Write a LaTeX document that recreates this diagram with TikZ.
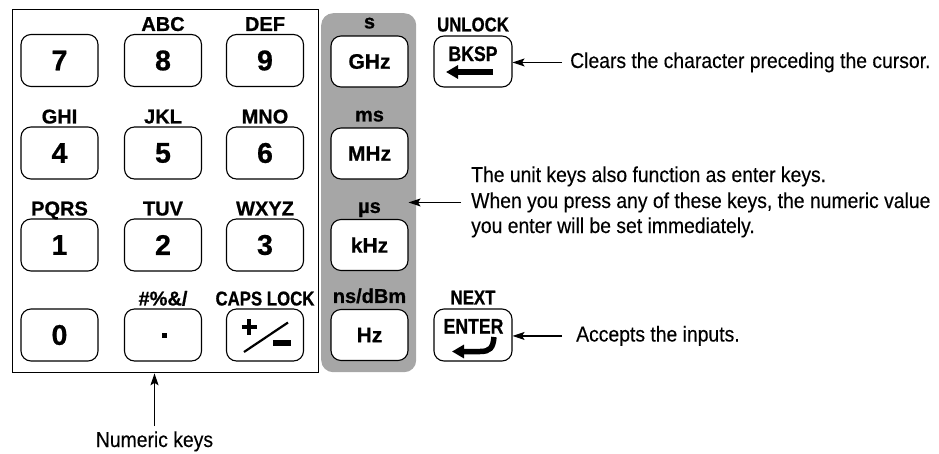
\documentclass[tikz,border=0pt]{standalone}
\usepackage{fontspec}
\setmainfont{Liberation Sans}[BoldFeatures={FakeBold=0.7}]
\newfontfamily\descfont{Liberation Sans}[FakeStretch=0.9, FakeBold=0.25]
\newfontfamily\narrowfont{Liberation Sans}[FakeStretch=0.84, BoldFeatures={FakeBold=0.7}]
\usetikzlibrary{arrows.meta}
\definecolor{panel}{RGB}{166,166,166}
\begin{document}
\begin{tikzpicture}[x=1pt,y=-1pt,
  keybox/.style={draw, line width=1.1pt, rounded corners=10pt, minimum width=77pt,
    minimum height=52pt, fill=white, inner sep=0pt},
  digit/.style={keybox, font=\bfseries\fontsize{28.5}{28.5}\selectfont},
  unitkey/.style={keybox, minimum height=51pt, font=\bfseries\fontsize{21}{21}\selectfont},
  lab/.style={anchor=base, inner sep=0pt, font=\bfseries\fontsize{20}{20}\selectfont},
  nlab/.style={anchor=base, inner sep=0pt, font=\narrowfont\bfseries\fontsize{20}{20}\selectfont},
  desc/.style={anchor=base west, inner sep=0pt, font=\descfont\fontsize{21.5}{24}\selectfont},
  arr/.style={line width=1.3pt, -{Stealth[length=12pt,width=8pt,inset=2.5pt]}},
  glyph/.style={line width=5.5pt, -{Triangle[length=12pt,width=13pt]}}
]
\useasboundingbox (0,0) rectangle (939,453);

% numeric block frame
\node[draw, line width=1.3pt, minimum width=306pt, minimum height=363pt, anchor=north west,
  inner sep=0pt] (numbox) at (12,9) {};
% unit panel
\node[fill=panel, rounded corners=12pt, minimum width=95pt, minimum height=359pt,
  anchor=north west, inner sep=0pt] (upanel) at (321,13) {};

% numeric keys
\node[digit] (k7) at (59.5,60.5) {7};
\node[digit] (k8) at (163,60.5) {8};
\node[digit] (k9) at (265,60.5) {9};
\node[digit] (k4) at (59.5,153) {4};
\node[digit] (k5) at (163,153) {5};
\node[digit] (k6) at (265,153) {6};
\node[digit] (k1) at (59.5,245) {1};
\node[digit] (k2) at (163,245) {2};
\node[digit] (k3) at (265,245) {3};
\node[digit] (k0) at (59.5,335) {0};
\node[digit] (kdot) at (163,335) {};
\node[digit] (kpm) at (265,335) {};

\node[lab] (l8) at ([yshift=3pt]k8.north) {ABC};
\node[lab] (l9) at ([yshift=3pt]k9.north) {DEF};
\node[lab] (l4) at ([yshift=3pt]k4.north) {GHI};
\node[lab] (l5) at ([yshift=3pt]k5.north) {JKL};
\node[lab] (l6) at ([yshift=3pt]k6.north) {MNO};
\node[lab] (l1) at ([yshift=3pt]k1.north) {PQRS};
\node[lab] (l2) at ([yshift=3pt]k2.north) {TUV};
\node[lab] (l3) at ([yshift=3pt]k3.north) {WXYZ};
\node[lab] (ldot) at ([yshift=3pt]kdot.north) {\#\%\&/};
\node[nlab] (lpm) at ([yshift=3pt]kpm.north) {CAPS LOCK};

% dot key glyph
\fill (161.5,332.5) rectangle (167,338);
% plus/minus glyph
\draw[line width=4pt] (241.5,327) -- (256.5,327) (249,319) -- (249,335);
\draw[line width=2.2pt] (244,352) -- (288,322.5);
\fill (273,339.5) rectangle (291,345.5);

% unit keys
\node[unitkey] (kg) at (369.5,61.5) {GHz};
\node[unitkey] (km) at (369.5,153.5) {MHz};
\node[unitkey] (kk) at (369.5,245) {kHz};
\node[unitkey] (kh) at (369.5,335) {Hz};
\node[lab] (ls) at ([yshift=7pt]kg.north) {s};
\node[lab] (lms) at ([yshift=6pt]km.north) {ms};
\node[lab] (lus) at ([yshift=6pt]kk.north) {µs};
\node[lab] (lns) at ([yshift=6pt]kh.north) {ns/dBm};

% BKSP and ENTER keys
\node[keybox, minimum width=78pt, minimum height=51pt] (bksp) at (473,61.5) {};
\node[nlab, font=\narrowfont\bfseries\fontsize{21}{21}\selectfont] (bksptxt) at (473,61) {BKSP};
\draw[glyph] (493,72) -- (446,72);
\node[nlab] (lunlock) at ([yshift=4pt]bksp.north) {UNLOCK};

\node[keybox, minimum width=78pt, minimum height=52pt] (enter) at (473,335) {};
\node[nlab, font=\narrowfont\bfseries\fontsize{21}{21}\selectfont] (entertxt) at (473.5,333.5) {ENTER};
\draw[glyph] (494,337) .. controls (493,348) and (490,351.5) .. (480,351.5) -- (452,351.5);
\node[nlab] (lnext) at ([yshift=4pt]enter.north) {NEXT};

% descriptions
\node[desc] (bkdesc) at (570,68) {Clears the character preceding the cursor.};
\draw[arr] ([xshift=-8pt]bkdesc.west) -- (bkdesc.west -| bksp.east);

\node[desc] (u1) at (471,182) {The unit keys also function as enter keys.};
\node[desc] (u2) at (471,208) {When you press any of these keys, the numeric value};
\node[desc] (u3) at (471,233) {you enter will be set immediately.};
\draw[arr] ([xshift=-10pt]u2.west) -- (u2.west -| kk.east);

\node[desc] (accdesc) at (576,341.5) {Accepts the inputs.};
\draw[arr] ([xshift=-14pt]accdesc.west) -- (accdesc.west -| enter.east);

\node[desc, anchor=base] (numdesc) at (154.5,447) {Numeric keys};
\draw[arr] ([yshift=5pt]numdesc.north) -- (numdesc.north |- numbox.south);
\end{tikzpicture}
\end{document}
